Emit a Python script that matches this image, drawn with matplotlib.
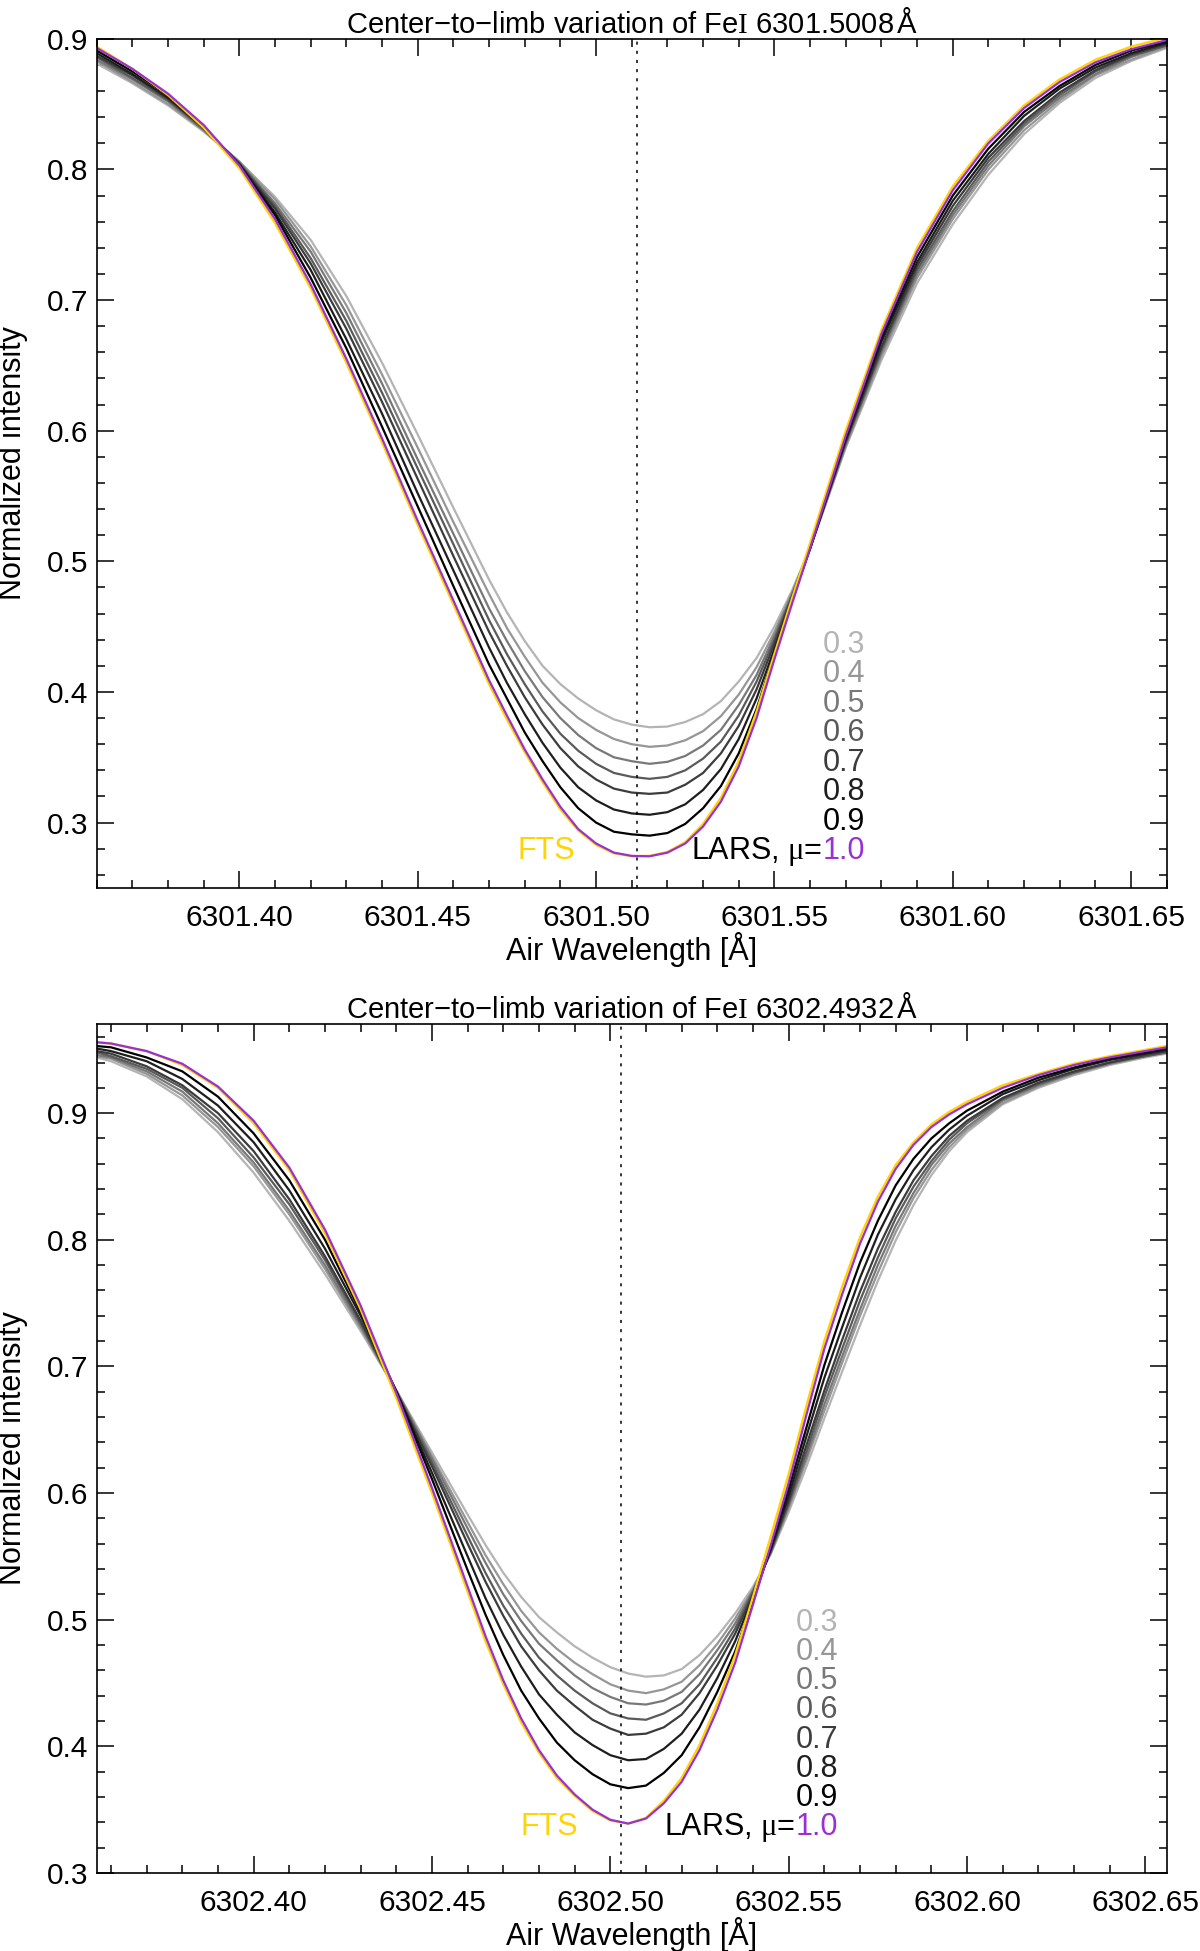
import matplotlib
matplotlib.use('Agg')
import matplotlib.pyplot as plt
from matplotlib.ticker import MultipleLocator, FormatStrFormatter

plt.rcParams['font.family'] = ['Liberation Sans', 'DejaVu Sans']
plt.rcParams['mathtext.fontset'] = 'custom'
plt.rcParams['mathtext.rm'] = 'Liberation Serif'
plt.rcParams['mathtext.it'] = 'Liberation Serif:italic'
plt.rcParams['mathtext.bf'] = 'Liberation Serif:bold'

# ---- data ----
mu_labels = ['0.3', '0.4', '0.5', '0.6', '0.7', '0.8', '0.9']

# Fe I 6301.5008
wl_6301 = [6301.36, 6301.37, 6301.38, 6301.39, 6301.40, 6301.41, 6301.42, 6301.43,
           6301.44, 6301.45, 6301.46, 6301.47, 6301.475, 6301.48, 6301.485, 6301.49,
           6301.495, 6301.50, 6301.505, 6301.51, 6301.515, 6301.52, 6301.525, 6301.53,
           6301.535, 6301.54, 6301.545, 6301.55, 6301.555, 6301.56, 6301.57, 6301.58,
           6301.59, 6301.60, 6301.61, 6301.62, 6301.63, 6301.64, 6301.65, 6301.66]
lars_6301 = [0.893, 0.877, 0.858, 0.834, 0.803, 0.762, 0.712, 0.655, 0.594, 0.531,
             0.470, 0.409, 0.382, 0.356, 0.333, 0.312, 0.295, 0.284, 0.277, 0.2745,
             0.2742, 0.277, 0.284, 0.297, 0.316, 0.343, 0.380, 0.425, 0.468, 0.510,
             0.596, 0.674, 0.737, 0.784, 0.820, 0.847, 0.867, 0.882, 0.892, 0.899]
fts_6301 = [0.894, 0.877, 0.857, 0.832, 0.801, 0.759, 0.709, 0.652, 0.591, 0.528,
            0.467, 0.406, 0.379, 0.354, 0.331, 0.310, 0.294, 0.283, 0.2765, 0.2743,
            0.2745, 0.2775, 0.285, 0.299, 0.319, 0.347, 0.385, 0.429, 0.472, 0.514,
            0.600, 0.677, 0.740, 0.787, 0.822, 0.849, 0.869, 0.884, 0.894, 0.901]
clv_6301 = {
    '0.9': [0.891, 0.875, 0.857, 0.833, 0.803, 0.765, 0.717, 0.663, 0.603, 0.542,
            0.481, 0.421, 0.395, 0.369, 0.347, 0.327, 0.311, 0.300, 0.293, 0.291,
            0.290, 0.292, 0.299, 0.311, 0.328, 0.353, 0.387, 0.429, 0.470, 0.510,
            0.595, 0.671, 0.733, 0.780, 0.816, 0.844, 0.864, 0.880, 0.891, 0.898],
    '0.8': [0.889, 0.873, 0.855, 0.832, 0.804, 0.767, 0.723, 0.670, 0.613, 0.552,
            0.493, 0.434, 0.407, 0.383, 0.361, 0.342, 0.327, 0.317, 0.310, 0.307,
            0.306, 0.308, 0.314, 0.325, 0.341, 0.364, 0.395, 0.433, 0.471, 0.510,
            0.593, 0.668, 0.729, 0.776, 0.812, 0.841, 0.862, 0.878, 0.889, 0.897],
    '0.7': [0.887, 0.872, 0.854, 0.832, 0.804, 0.770, 0.728, 0.678, 0.622, 0.563,
            0.504, 0.446, 0.420, 0.396, 0.375, 0.357, 0.343, 0.333, 0.326, 0.323,
            0.322, 0.323, 0.329, 0.338, 0.353, 0.374, 0.402, 0.437, 0.473, 0.510,
            0.592, 0.664, 0.726, 0.772, 0.809, 0.837, 0.859, 0.876, 0.888, 0.896],
    '0.6': [0.886, 0.870, 0.853, 0.831, 0.805, 0.772, 0.732, 0.684, 0.629, 0.571,
            0.513, 0.455, 0.429, 0.406, 0.385, 0.368, 0.355, 0.345, 0.338, 0.335,
            0.3335, 0.335, 0.340, 0.349, 0.362, 0.382, 0.408, 0.440, 0.474, 0.510,
            0.591, 0.662, 0.723, 0.768, 0.806, 0.835, 0.857, 0.875, 0.887, 0.895],
    '0.5': [0.884, 0.869, 0.852, 0.830, 0.805, 0.774, 0.737, 0.690, 0.636, 0.578,
            0.521, 0.464, 0.439, 0.416, 0.396, 0.380, 0.367, 0.357, 0.350, 0.347,
            0.345, 0.3465, 0.351, 0.359, 0.371, 0.390, 0.413, 0.443, 0.475, 0.510,
            0.590, 0.660, 0.720, 0.765, 0.803, 0.833, 0.855, 0.873, 0.886, 0.895],
    '0.4': [0.883, 0.867, 0.850, 0.830, 0.806, 0.777, 0.741, 0.696, 0.643, 0.587,
            0.530, 0.475, 0.449, 0.427, 0.407, 0.392, 0.380, 0.371, 0.364, 0.360,
            0.358, 0.359, 0.363, 0.370, 0.3815, 0.398, 0.419, 0.446, 0.4765, 0.510,
            0.588, 0.657, 0.717, 0.762, 0.800, 0.830, 0.853, 0.872, 0.884, 0.894],
    '0.3': [0.881, 0.866, 0.849, 0.829, 0.806, 0.779, 0.746, 0.703, 0.652, 0.597,
            0.541, 0.486, 0.461, 0.439, 0.420, 0.406, 0.395, 0.386, 0.379, 0.375,
            0.373, 0.3735, 0.377, 0.383, 0.393, 0.408, 0.426, 0.450, 0.478, 0.510,
            0.587, 0.654, 0.713, 0.758, 0.796, 0.827, 0.851, 0.870, 0.883, 0.893],
}

# Fe I 6302.4932
wl_6302 = [6302.356, 6302.36, 6302.37, 6302.38, 6302.39, 6302.40, 6302.41, 6302.42,
           6302.43, 6302.44, 6302.45, 6302.46, 6302.465, 6302.47, 6302.475, 6302.48,
           6302.485, 6302.49, 6302.495, 6302.50, 6302.505, 6302.51, 6302.515, 6302.52,
           6302.525, 6302.53, 6302.535, 6302.54, 6302.545, 6302.55, 6302.555, 6302.56,
           6302.565, 6302.57, 6302.575, 6302.58, 6302.585, 6302.59, 6302.595, 6302.60,
           6302.61, 6302.62, 6302.63, 6302.64, 6302.65, 6302.656]
lars_6302 = [0.956, 0.955, 0.949, 0.939, 0.921, 0.894, 0.857, 0.808, 0.748, 0.679,
             0.604, 0.526, 0.487, 0.452, 0.422, 0.397, 0.377, 0.362, 0.350, 0.342,
             0.339, 0.343, 0.355, 0.372, 0.397, 0.429, 0.466, 0.512, 0.559, 0.608,
             0.662, 0.714, 0.757, 0.797, 0.830, 0.856, 0.875, 0.889, 0.899, 0.907,
             0.920, 0.930, 0.938, 0.944, 0.949, 0.952]
fts_6302 = [0.956, 0.955, 0.949, 0.938, 0.920, 0.892, 0.855, 0.805, 0.745, 0.675,
            0.600, 0.522, 0.483, 0.449, 0.419, 0.395, 0.375, 0.361, 0.349, 0.3415,
            0.339, 0.3435, 0.357, 0.375, 0.401, 0.434, 0.472, 0.518, 0.566, 0.615,
            0.669, 0.720, 0.763, 0.802, 0.834, 0.859, 0.877, 0.891, 0.901, 0.909,
            0.922, 0.931, 0.939, 0.945, 0.950, 0.953]
clv_6302 = {
    '0.9': [0.953, 0.952, 0.944, 0.933, 0.913, 0.884, 0.847, 0.800, 0.743, 0.680,
            0.611, 0.539, 0.504, 0.472, 0.444, 0.422, 0.403, 0.389, 0.378, 0.370,
            0.367, 0.369, 0.379, 0.393, 0.415, 0.443, 0.475, 0.515, 0.557, 0.603,
            0.652, 0.701, 0.743, 0.782, 0.815, 0.843, 0.864, 0.880, 0.892, 0.902,
            0.917, 0.928, 0.936, 0.943, 0.948, 0.951],
    '0.8': [0.951, 0.949, 0.941, 0.927, 0.906, 0.877, 0.839, 0.793, 0.740, 0.680,
            0.616, 0.550, 0.517, 0.488, 0.463, 0.441, 0.425, 0.411, 0.401, 0.393,
            0.389, 0.390, 0.398, 0.410, 0.429, 0.454, 0.483, 0.518, 0.556, 0.598,
            0.645, 0.691, 0.731, 0.770, 0.804, 0.832, 0.855, 0.873, 0.887, 0.898,
            0.915, 0.926, 0.935, 0.942, 0.947, 0.950],
    '0.7': [0.949, 0.947, 0.937, 0.922, 0.900, 0.870, 0.832, 0.787, 0.736, 0.680,
            0.621, 0.560, 0.530, 0.503, 0.479, 0.460, 0.444, 0.432, 0.421, 0.414,
            0.409, 0.410, 0.415, 0.425, 0.442, 0.464, 0.489, 0.520, 0.555, 0.594,
            0.638, 0.681, 0.721, 0.759, 0.793, 0.822, 0.847, 0.866, 0.882, 0.894,
            0.912, 0.924, 0.933, 0.940, 0.946, 0.949],
    '0.6': [0.948, 0.945, 0.935, 0.920, 0.896, 0.865, 0.828, 0.784, 0.734, 0.680,
            0.624, 0.566, 0.537, 0.511, 0.489, 0.470, 0.456, 0.444, 0.434, 0.426,
            0.422, 0.421, 0.426, 0.434, 0.449, 0.470, 0.493, 0.522, 0.554, 0.592,
            0.633, 0.676, 0.714, 0.752, 0.786, 0.817, 0.842, 0.862, 0.879, 0.892,
            0.911, 0.923, 0.932, 0.940, 0.945, 0.948],
    '0.5': [0.946, 0.944, 0.933, 0.917, 0.892, 0.861, 0.823, 0.780, 0.732, 0.681,
            0.627, 0.572, 0.545, 0.520, 0.499, 0.481, 0.468, 0.456, 0.446, 0.439,
            0.434, 0.433, 0.436, 0.443, 0.457, 0.476, 0.497, 0.523, 0.553, 0.590,
            0.629, 0.670, 0.708, 0.745, 0.780, 0.811, 0.837, 0.859, 0.876, 0.889,
            0.910, 0.922, 0.932, 0.939, 0.945, 0.948],
    '0.4': [0.945, 0.943, 0.931, 0.914, 0.889, 0.858, 0.820, 0.777, 0.730, 0.681,
            0.629, 0.577, 0.551, 0.528, 0.507, 0.490, 0.477, 0.466, 0.457, 0.449,
            0.444, 0.442, 0.445, 0.451, 0.464, 0.481, 0.501, 0.524, 0.553, 0.588,
            0.626, 0.665, 0.703, 0.740, 0.774, 0.806, 0.833, 0.855, 0.873, 0.887,
            0.908, 0.921, 0.931, 0.939, 0.945, 0.948],
    '0.3': [0.944, 0.941, 0.929, 0.911, 0.885, 0.853, 0.815, 0.773, 0.728, 0.681,
            0.632, 0.583, 0.559, 0.537, 0.518, 0.502, 0.490, 0.479, 0.470, 0.4625,
            0.4575, 0.455, 0.456, 0.461, 0.472, 0.487, 0.505, 0.526, 0.552, 0.585,
            0.621, 0.659, 0.696, 0.7325, 0.7675, 0.7995, 0.8275, 0.851, 0.870, 0.885,
            0.907, 0.920, 0.930, 0.938, 0.944, 0.947],
}

xticks_6301 = [6301.40, 6301.45, 6301.50, 6301.55, 6301.60, 6301.65]
xticks_6302 = [6302.40, 6302.45, 6302.50, 6302.55, 6302.60, 6302.65]
yticks = [0.3, 0.4, 0.5, 0.6, 0.7, 0.8, 0.9]

# ---- styles ----
grays = ['#b4b4b4', '#969696', '#787878', '#5a5a5a', '#3c3c3c', '#1e1e1e', '#000000']
gold = '#ffd400'
purple = '#9a30d4'
FS = 21.5


def panel(ax, wl, clv, fts, lars, core, xlim, ylim, xticks, title,
          lab_x, lab_y0, lab_dy, fts_x):
    for lab, col in zip(mu_labels, grays):
        ax.plot(wl, clv[lab], color=col, lw=1.6)
    ax.plot(wl, fts, color=gold, lw=1.7)
    ax.plot(wl, lars, color=purple, lw=1.6)
    ax.axvline(core, color='k', lw=1.1, ls=(0, (2, 4)))

    ax.set_xlim(*xlim)
    ax.set_ylim(*ylim)
    ax.set_xticks(xticks)
    ax.set_yticks(yticks)
    ax.xaxis.set_minor_locator(MultipleLocator(0.01))
    ax.yaxis.set_minor_locator(MultipleLocator(0.02))
    ax.xaxis.set_major_formatter(FormatStrFormatter('%.2f'))
    ax.yaxis.set_major_formatter(FormatStrFormatter('%.1f'))
    ax.tick_params(which='both', direction='in', top=True, right=True,
                   width=1.1, labelsize=FS)
    ax.tick_params(which='major', length=12)
    ax.tick_params(which='minor', length=6)
    ax.tick_params(axis='x', pad=11.5)
    ax.tick_params(axis='y', pad=6)
    for s in ax.spines.values():
        s.set_linewidth(1.2)

    ax.set_title(title, fontsize=21, pad=4)
    ax.set_xlabel('Air Wavelength [Å]', fontsize=22)
    ax.set_ylabel('Normalized intensity', fontsize=22)
    ax.xaxis.set_label_coords(0.5, -0.052)
    ax.yaxis.set_label_coords(-0.064, 0.5)

    # mu labels
    for i, (lab, col) in enumerate(zip(mu_labels, grays)):
        ax.text(lab_x, lab_y0 - i * lab_dy, lab, color=col, fontsize=22,
                ha='right', va='baseline')
    y_last = lab_y0 - 7 * lab_dy
    ax.text(lab_x, y_last, '1.0', color=purple, fontsize=22, ha='right', va='baseline')
    ax.annotate(r'LARS, $\mathrm{\mu}$=', xy=(lab_x, y_last), xytext=(-31, 0),
                textcoords='offset points', fontsize=22, ha='right', va='baseline')
    ax.text(fts_x, y_last, 'FTS', color=gold, fontsize=22, ha='center', va='baseline')


fig = plt.figure(figsize=(12, 19.51), dpi=100)
ax1 = fig.add_axes([0.0806, 0.5449, 0.8917, 0.4352])
ax2 = fig.add_axes([0.0806, 0.0400, 0.8917, 0.4352])

panel(ax1, wl_6301, clv_6301, fts_6301, lars_6301, 6301.5114,
      (6301.36, 6301.66), (0.25, 0.9), xticks_6301,
      r'Center−to−limb variation of Fe$\mathrm{I}$ 6301.5008$\,$Å',
      6301.5755, 0.4301, 0.0226, 6301.4861)
panel(ax2, wl_6302, clv_6302, fts_6302, lars_6302, 6302.5029,
      (6302.356, 6302.656), (0.3, 0.9705), xticks_6302,
      r'Center−to−limb variation of Fe$\mathrm{I}$ 6302.4932$\,$Å',
      6302.564, 0.4913, 0.0231, 6302.4829)

fig.savefig('out.png', dpi=100)
